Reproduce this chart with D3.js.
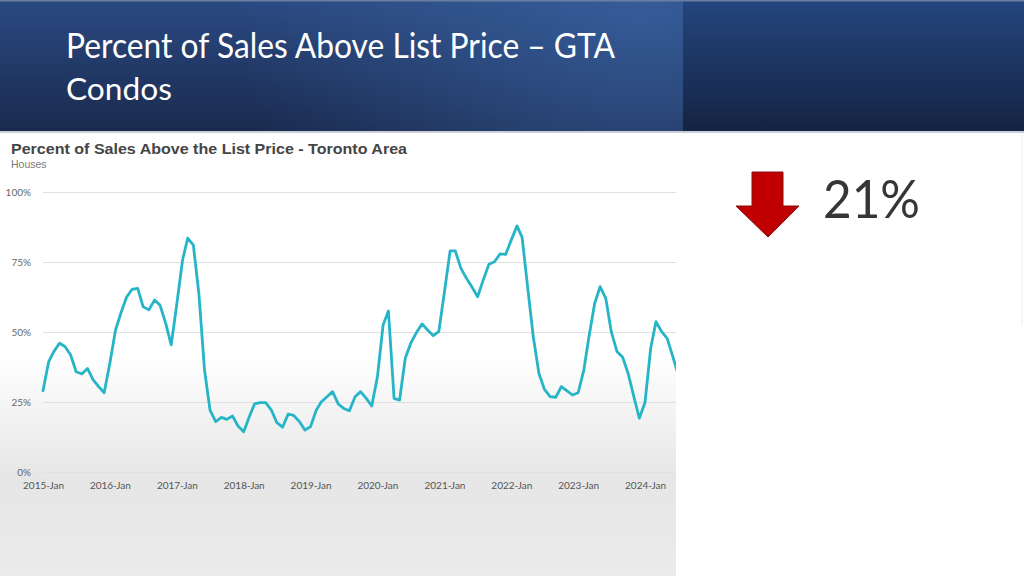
<!DOCTYPE html>
<html>
<head>
<meta charset="utf-8">
<script src="https://cdn.jsdelivr.net/npm/d3@7"></script>
<style>
  html, body { margin: 0; padding: 0; background: #ffffff; }
  svg { display: block; }
</style>
</head>
<body>
<svg id="chart" width="1024" height="576"></svg>
<script>
// ---- Data ----
const slideTitle = "Percent of Sales Above List Price \u2013 GTA";
const slideSubtitle = "Condos";
const chartTitle = "Percent of Sales Above the List Price - Toronto Area";
const chartSubtitle = "Houses";
const changeLabel = "21%";
const startMonth = "2015-01";
// monthly % of sales above list, starting 2015-Jan
const values = [
  29, 39.4, 43, 46, 44.8, 41.8, 35.8, 35, 37, 33, 30.5, 28.3,
  38.8, 50.7, 56.7, 62.4, 65.2, 65.6, 59, 57.9, 61.4, 59.6, 53.1, 45.4,
  60.2, 75.7, 83.5, 81, 63.8, 36.4, 22.1, 18, 19.5, 18.8, 20, 16.4,
  14.4, 19.8, 24.3, 24.8, 24.8, 22.1, 17.6, 16, 20.7, 20.2, 18, 15,
  16.2, 22.1, 25.1, 26.9, 28.7, 24.3, 22.7, 21.9, 26.9, 28.7, 26.3, 23.6,
  34, 52.5, 57.5, 26.3, 25.7, 40.6, 46, 49.8, 52.9, 50.7, 48.7, 50.1,
  64.4, 79, 79, 72.7, 69.2, 66, 62.6, 68.6, 74.2, 75.1, 77.9, 77.7,
  82.9, 87.9, 83.8, 65.6, 48.3, 35.2, 29.5, 26.9, 26.7, 30.5, 29, 27.5,
  28.3, 36.4, 48.3, 60.2, 66.2, 62, 50.1, 43, 41, 35.2, 26.9, 19.2,
  24.8, 44.2, 53.7, 50.1, 47.7, 41.2, 34.6
];
const yTicks = [0, 25, 50, 75, 100];
const xTickYears = ["2015", "2016", "2017", "2018", "2019", "2020", "2021", "2022", "2023", "2024"];

// ---- Build ----
const svg = d3.select("#chart");
const defs = svg.append("defs");

const gL = defs.append("linearGradient").attr("id", "hdrL").attr("x1", 0).attr("y1", 0).attr("x2", 0).attr("y2", 1);
gL.append("stop").attr("offset", "0%").attr("stop-color", "#2b4a82");
gL.append("stop").attr("offset", "100%").attr("stop-color", "#1a2a4e");
const gGlow = defs.append("radialGradient").attr("id", "glow")
  .attr("gradientUnits", "userSpaceOnUse").attr("cx", 640).attr("cy", 0).attr("r", 400);
gGlow.append("stop").attr("offset", "0%").attr("stop-color", "#3d68a8").attr("stop-opacity", 0.6);
gGlow.append("stop").attr("offset", "100%").attr("stop-color", "#3d68a8").attr("stop-opacity", 0);
const gR = defs.append("linearGradient").attr("id", "hdrR").attr("x1", 0).attr("y1", 0).attr("x2", 0).attr("y2", 1);
gR.append("stop").attr("offset", "0%").attr("stop-color", "#24467d");
gR.append("stop").attr("offset", "100%").attr("stop-color", "#152342");
const gB = defs.append("linearGradient").attr("id", "bg").attr("x1", 0).attr("y1", 0).attr("x2", 0).attr("y2", 1);
gB.append("stop").attr("offset", "0%").attr("stop-color", "#ffffff");
gB.append("stop").attr("offset", "50%").attr("stop-color", "#ffffff");
gB.append("stop").attr("offset", "78%").attr("stop-color", "#e6e6e6");
gB.append("stop").attr("offset", "100%").attr("stop-color", "#ebebeb");

defs.append("clipPath").attr("id", "clipChart")
  .append("rect").attr("x", 0).attr("y", 133).attr("width", 676).attr("height", 443);

// header
svg.append("rect").attr("x", 0).attr("y", 0).attr("width", 683).attr("height", 132).attr("fill", "url(#hdrL)");
svg.append("rect").attr("x", 0).attr("y", 0).attr("width", 683).attr("height", 132).attr("fill", "url(#glow)");
svg.append("rect").attr("x", 683).attr("y", 0).attr("width", 341).attr("height", 132).attr("fill", "url(#hdrR)");
svg.append("rect").attr("x", 0).attr("y", 0).attr("width", 1024).attr("height", 1.5).attr("fill", "#6a7f9f");
svg.append("rect").attr("x", 0).attr("y", 131).attr("width", 1024).attr("height", 2).attr("fill", "#c9ced8");

svg.append("text").attr("x", 66).attr("y", 58)
  .attr("font-family", "Lato, 'Open Sans', sans-serif").attr("font-size", 34).attr("fill", "#ffffff")
  .attr("textLength", 549).attr("lengthAdjust", "spacingAndGlyphs")
  .text(slideTitle);
svg.append("text").attr("x", 66).attr("y", 100)
  .attr("font-family", "Lato, 'Open Sans', sans-serif").attr("font-size", 31).attr("fill", "#ffffff")
  .attr("textLength", 106).attr("lengthAdjust", "spacingAndGlyphs")
  .text(slideSubtitle);

// chart background
svg.append("rect").attr("x", 0).attr("y", 133).attr("width", 676).attr("height", 443).attr("fill", "url(#bg)");
svg.append("line").attr("x1", 1022).attr("x2", 1022).attr("y1", 133).attr("y2", 325).attr("stroke", "#ececec");

svg.append("text").attr("x", 11).attr("y", 154)
  .attr("font-family", "'Liberation Sans', Arial, sans-serif").attr("font-weight", "bold")
  .attr("font-size", 14).attr("fill", "#454545")
  .attr("textLength", 396).attr("lengthAdjust", "spacingAndGlyphs")
  .text(chartTitle);
svg.append("text").attr("x", 11).attr("y", 168)
  .attr("font-family", "'Liberation Sans', Arial, sans-serif")
  .attr("font-size", 10.5).attr("fill", "#7a7a7a")
  .text(chartSubtitle);

const parse = d3.timeParse("%Y-%m");
const t0 = parse(startMonth);
const dates = values.map((v, i) => d3.timeMonth.offset(t0, i));
const data = values.map((v, i) => ({ date: dates[i], value: v }));

const x = d3.scaleTime()
  .domain([parse("2015-01"), parse("2024-01")])
  .range([43, 645]);
const y = d3.scaleLinear().domain([0, 100]).range([472, 192]);

const plotLeft = 43, plotRight = 676;

const yAxis = d3.axisLeft(y).tickValues(yTicks).tickFormat(d => d + "%")
  .tickSizeInner(-(plotRight - plotLeft)).tickSizeOuter(0).tickPadding(12);
const gy = svg.append("g").attr("transform", `translate(${plotLeft},0)`).call(yAxis);
gy.select(".domain").remove();
gy.selectAll(".tick line").attr("stroke", "#e0e0e0").attr("stroke-width", 1);
gy.selectAll(".tick text").attr("fill", "#666").attr("font-size", 10)
  .attr("font-family", "Lato, sans-serif");

const xAxis = d3.axisBottom(x)
  .tickValues(xTickYears.map(yr => parse(yr + "-01")))
  .tickFormat(d3.timeFormat("%Y-%b")).tickSize(0).tickPadding(10);
const gx = svg.append("g").attr("transform", `translate(0,472)`).call(xAxis);
gx.select(".domain").remove();
gx.selectAll(".tick text").attr("fill", "#555").attr("font-size", 10)
  .attr("font-family", "Lato, sans-serif");

const line = d3.line().x(d => x(d.date)).y(d => y(d.value));
svg.append("path").datum(data)
  .attr("clip-path", "url(#clipChart)")
  .attr("fill", "none").attr("stroke", "#26b5c7").attr("stroke-width", 2.8)
  .attr("stroke-linejoin", "round").attr("stroke-linecap", "round")
  .attr("d", line);

// red down arrow
const arrowPts = [[752, 172], [783, 172], [783, 206], [799, 206], [768, 237], [736, 206], [752, 206]];
svg.append("path").attr("d", d3.line()(arrowPts) + "Z")
  .attr("fill", "#c00000").attr("stroke", "#8a0e0e").attr("stroke-width", 1);

svg.append("text").attr("x", 823).attr("y", 218)
  .attr("font-family", "Lato, 'Open Sans', sans-serif").attr("font-size", 52).attr("fill", "#363636")
  .attr("textLength", 97).attr("lengthAdjust", "spacingAndGlyphs")
  .text(changeLabel);
</script>
</body>
</html>
